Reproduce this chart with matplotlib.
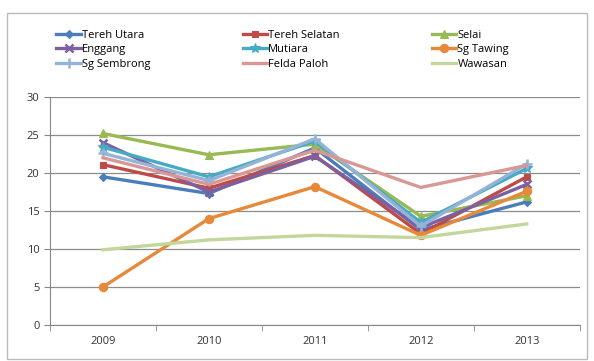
import matplotlib
matplotlib.use("Agg")
import matplotlib.pyplot as plt
from matplotlib.patches import Rectangle

years = ["2009", "2010", "2011", "2012", "2013"]

tereh_utara = [19.5, 17.3, 23.3, 12.5, 16.2]
tereh_selatan = [21.1, 18.0, 22.3, 12.0, 19.5]
selai = [25.2, 22.4, 23.8, 14.3, 17.0]
enggang = [24.0, 17.5, 22.2, 12.8, 18.5]
mutiara = [23.4, 19.5, 24.2, 13.5, 20.6]
sg_tawing = [5.0, 14.0, 18.2, 11.8, 17.6]
sg_sembrong = [22.6, 19.0, 24.5, 13.0, 21.2]
felda_paloh = [22.0, 18.5, 23.0, 18.1, 21.0]
wawasan = [9.9, 11.2, 11.8, 11.5, 13.3]

series = [
    ("Tereh Utara", tereh_utara, "#4a7ebb", "D", 4.5),
    ("Tereh Selatan", tereh_selatan, "#be4b48", "s", 5),
    ("Selai", selai, "#98b954", "^", 6),
    ("Enggang", enggang, "#7d60a0", "x", 6),
    ("Mutiara", mutiara, "#46aac5", "*", 7),
    ("Sg Tawing", sg_tawing, "#e8893a", "o", 6),
    ("Sg Sembrong", sg_sembrong, "#95b3d7", "+", 7),
    ("Felda Paloh", felda_paloh, "#d99795", None, 0),
    ("Wawasan", wawasan, "#c3d69b", None, 0),
]

plt.rcParams["font.family"] = ["Open Sans", "DejaVu Sans"]

fig = plt.figure(figsize=(5.94, 3.61), dpi=100)
ax = fig.add_axes([0.084, 0.0997, 0.892, 0.6316])

x = list(range(len(years)))
for name, vals, color, marker, ms in series:
    ax.plot(x, vals, color=color, lw=2.4, marker=marker, markersize=ms,
            markeredgewidth=1.8 if marker in ("x", "+") else 0.8,
            markeredgecolor=color, label=name)

ax.set_xlim(-0.5, len(years) - 0.5)
ax.set_ylim(0, 30)
ax.set_yticks(range(0, 31, 5))
ax.set_xticks(x)
ax.set_xticklabels(years)
ax.set_xticks([i - 0.5 for i in range(len(years) + 1)], minor=True)
ax.tick_params(axis="x", which="major", length=0, labelsize=8, pad=8,
               colors="#333333")
ax.tick_params(axis="x", which="minor", length=4, color="#888888",
               direction="out")
ax.tick_params(axis="y", length=4, color="#888888", labelsize=8,
               colors="#333333")

ax.grid(axis="y", color="#8c8c8c", lw=0.9)
ax.set_axisbelow(True)
for side in ("top", "right"):
    ax.spines[side].set_visible(False)
for side in ("left", "bottom"):
    ax.spines[side].set_color("#888888")

# legend fills row by row, three entries per row
handles, labels = ax.get_legend_handles_labels()
order = [0, 3, 6, 1, 4, 7, 2, 5, 8]
fig.legend([handles[i] for i in order], [labels[i] for i in order],
           loc="upper left", bbox_to_anchor=(0.078, 0.945), ncol=3,
           frameon=False, fontsize=8, handlelength=2.2, handletextpad=0.1,
           columnspacing=8.3, labelspacing=0.3)

fig.patches.append(Rectangle((0.012, 0.005), 0.976, 0.96,
                             transform=fig.transFigure, fill=False,
                             edgecolor="#bbbbbb", lw=1))

fig.savefig("out.png", dpi=100)
